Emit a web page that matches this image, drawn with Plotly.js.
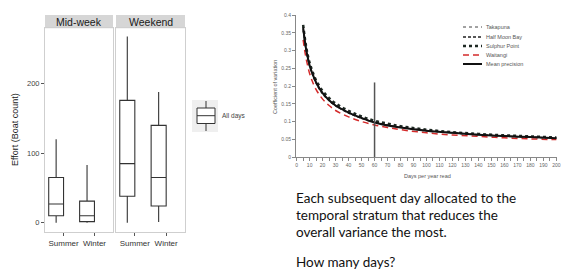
<!DOCTYPE html>
<html><head><meta charset="utf-8">
<script src="https://cdn.plot.ly/plotly-3.0.1.min.js"></script>
<style>html,body{margin:0;padding:0;background:#fff}#chart{width:563px;height:278px}</style>
</head><body><div id="chart"></div>
<script>
// ---- Left chart data (boat counts) ----
var seasons = ['Summer', 'Winter'];
var midweekLower = [0, 0];
var midweekQ1 = [10, 1.5];
var midweekMedian = [27, 10];
var midweekQ3 = [65, 31];
var midweekUpper = [120, 83];
var weekendLower = [0, 1];
var weekendQ1 = [38, 24];
var weekendMedian = [85, 65];
var weekendQ3 = [176, 140];
var weekendUpper = [268, 188];
var facetLabels = ['Mid-week', 'Weekend'];
var boxLegendLabel = 'All days';

// ---- Right chart data (coefficient of variation) ----
var days = [5, 6, 7, 8, 10, 12, 15, 20, 25, 30, 40, 50, 60, 70, 80, 100, 120, 140, 160, 180, 200];
var takapuna = [0.370, 0.340, 0.315, 0.294, 0.262, 0.240, 0.213, 0.183, 0.163, 0.148, 0.127, 0.112, 0.100, 0.092, 0.085, 0.075, 0.069, 0.064, 0.060, 0.057, 0.054];
var halfMoonBay = [0.360, 0.332, 0.307, 0.288, 0.256, 0.234, 0.208, 0.178, 0.159, 0.144, 0.124, 0.109, 0.098, 0.090, 0.084, 0.074, 0.068, 0.063, 0.059, 0.056, 0.053];
var sulphurPoint = [0.372, 0.343, 0.318, 0.297, 0.265, 0.243, 0.216, 0.186, 0.166, 0.151, 0.130, 0.114, 0.102, 0.094, 0.087, 0.077, 0.070, 0.065, 0.061, 0.058, 0.055];
var waitangi = [0.330, 0.305, 0.283, 0.265, 0.235, 0.214, 0.190, 0.163, 0.145, 0.131, 0.113, 0.100, 0.090, 0.083, 0.077, 0.068, 0.062, 0.058, 0.054, 0.051, 0.049];
var meanPrecision = [0.365, 0.335, 0.310, 0.290, 0.258, 0.236, 0.210, 0.180, 0.160, 0.145, 0.125, 0.110, 0.097, 0.089, 0.083, 0.074, 0.068, 0.063, 0.059, 0.056, 0.053];
var chosenDays = [60, 60];
var chosenLine = [0, 0.21];
var seriesNames = ['Takapuna', 'Half Moon Bay', 'Sulphur Point', 'Waitangi', 'Mean precision'];
var bodyText = ['Each subsequent day allocated to the', 'temporal stratum that reduces the', 'overall variance the most.', 'How many days?'];

var W = 563, H = 278;
function fx(p) { return p / W; }
function fy(p) { return 1 - p / H; }

var boxStyle = {type: 'box', fillcolor: '#ffffff', line: {color: '#333333', width: 1.1}, whiskerwidth: 0, hoverinfo: 'skip', showlegend: false, boxpoints: false};
function box(xa, ya, lo, q1, med, q3, up, ghost) {
  var t = Object.assign({}, boxStyle, {x: seasons, lowerfence: lo, q1: q1, median: med, q3: q3, upperfence: up, xaxis: xa, yaxis: ya,
    alignmentgroup: 'g' + xa, offsetgroup: ghost ? 'dodge' : 'main'});
  if (ghost) { t.fillcolor = 'rgba(0,0,0,0)'; t.line = {color: 'rgba(0,0,0,0)', width: 0}; }
  return t;
}

var styles = [
  {color: '#444444', width: 1, dash: 'dot'},
  {color: '#222222', width: 1.5, dash: '3px,2px'},
  {color: '#1f2a24', width: 2.5, dash: 'dot'},
  {color: '#d42b2b', width: 1.5, dash: '6px,4px'},
  {color: '#111111', width: 2, dash: 'solid'}
];
var seriesData = [takapuna, halfMoonBay, sulphurPoint, waitangi, meanPrecision];

var traces = [
  box('x', 'y', midweekLower, midweekQ1, midweekMedian, midweekQ3, midweekUpper, false),
  box('x', 'y', midweekLower, midweekQ1, midweekMedian, midweekQ3, midweekUpper, true),
  box('x2', 'y2', weekendLower, weekendQ1, weekendMedian, weekendQ3, weekendUpper, false),
  box('x2', 'y2', weekendLower, weekendQ1, weekendMedian, weekendQ3, weekendUpper, true)
];
var order = [3, 0, 1, 2, 4];
order.forEach(function (i) {
  traces.push({type: 'scatter', mode: 'lines', x: days, y: seriesData[i], name: seriesNames[i],
    line: {color: styles[i].color, width: styles[i].width, dash: styles[i].dash, shape: 'spline'},
    xaxis: 'x3', yaxis: 'y3', showlegend: false, hoverinfo: 'skip'});
});
traces.push({type: 'scatter', mode: 'lines', x: chosenDays, y: chosenLine, line: {color: '#555555', width: 1.5},
  xaxis: 'x3', yaxis: 'y3', showlegend: false, hoverinfo: 'skip'});

var panelAxis = {showline: true, mirror: true, linecolor: '#cfcfcf', linewidth: 1, showgrid: false, zeroline: false};
var shapes = [];
var annotations = [];

// facet strips
[[45, 113], [116, 185]].forEach(function (r, i) {
  shapes.push({type: 'rect', xref: 'paper', yref: 'paper', x0: fx(r[0]), x1: fx(r[1]), y0: fy(28.3), y1: fy(15), fillcolor: '#d6d6d6', line: {width: 0}, layer: 'below'});
  annotations.push({xref: 'paper', yref: 'paper', x: fx((r[0] + r[1]) / 2), y: fy(21.8), text: facetLabels[i], showarrow: false, xanchor: 'center', yanchor: 'middle', font: {family: 'Liberation Sans, Arial', size: 10.5, color: '#1a1a1a'}});
});

// left legend key
shapes.push({type: 'rect', xref: 'paper', yref: 'paper', x0: fx(192), x1: fx(218), y0: fy(132), y1: fy(100), fillcolor: '#efefef', line: {width: 0}});
shapes.push({type: 'rect', xref: 'paper', yref: 'paper', x0: fx(197), x1: fx(215), y0: fy(123.5), y1: fy(108), fillcolor: '#ffffff', line: {color: '#333', width: 1}});
shapes.push({type: 'line', xref: 'paper', yref: 'paper', x0: fx(197), x1: fx(215), y0: fy(115.7), y1: fy(115.7), line: {color: '#333', width: 1}});
shapes.push({type: 'line', xref: 'paper', yref: 'paper', x0: fx(206), x1: fx(206), y0: fy(108), y1: fy(101), line: {color: '#333', width: 1}});
shapes.push({type: 'line', xref: 'paper', yref: 'paper', x0: fx(206), x1: fx(206), y0: fy(123.5), y1: fy(131), line: {color: '#333', width: 1}});
annotations.push({xref: 'paper', yref: 'paper', x: fx(220), y: fy(116), text: boxLegendLabel, showarrow: false, xanchor: 'left', yanchor: 'middle', font: {family: 'Liberation Sans, Arial', size: 6.5, color: '#444'}});

// left y title
annotations.push({xref: 'paper', yref: 'paper', x: fx(15), y: fy(130), text: 'Effort (Boat count)', textangle: -90, showarrow: false, xanchor: 'center', yanchor: 'middle', font: {family: 'Liberation Sans, Arial', size: 9, color: '#1a1a1a'}});

// right legend
var legRows = [27, 37, 46, 55, 64];
seriesNames.forEach(function (n, i) {
  shapes.push({type: 'line', xref: 'paper', yref: 'paper', x0: fx(463), x1: fx(482), y0: fy(legRows[i]), y1: fy(legRows[i]), line: {color: styles[i].color, width: styles[i].width, dash: styles[i].dash}});
  annotations.push({xref: 'paper', yref: 'paper', x: fx(484), y: fy(legRows[i]), text: n, showarrow: false, xanchor: 'left', yanchor: 'middle', font: {family: 'Liberation Sans, Arial', size: 5.5, color: '#555'}});
});

// right axis titles
annotations.push({xref: 'paper', yref: 'paper', x: fx(275), y: fy(87), text: 'Coefficient of variation', textangle: -90, showarrow: false, xanchor: 'center', yanchor: 'middle', font: {family: 'Liberation Sans, Arial', size: 5.5, color: '#555'}});
annotations.push({xref: 'paper', yref: 'paper', x: fx(427), y: fy(176), text: 'Days per year read', showarrow: false, xanchor: 'center', yanchor: 'middle', font: {family: 'Liberation Sans, Arial', size: 5.5, color: '#555'}});

// body text
var textRows = [198, 215, 232, 262];
bodyText.forEach(function (t, i) {
  annotations.push({xref: 'paper', yref: 'paper', x: fx(294), y: fy(textRows[i]), text: t, showarrow: false, xanchor: 'left', yanchor: 'middle', font: {family: 'Lato', size: 13.5, color: '#111111'}});
});

var layout = {
  width: W, height: H, margin: {l: 0, r: 0, t: 0, b: 0}, paper_bgcolor: '#fff', plot_bgcolor: 'rgba(0,0,0,0)',
  showlegend: false, boxmode: 'group', boxgap: 0.04, boxgroupgap: 0,
  xaxis: Object.assign({}, panelAxis, {domain: [fx(45), fx(113)], anchor: 'y', type: 'category', categoryarray: seasons, range: [-0.6, 1.6], ticks: 'outside', ticklen: 3, tickcolor: '#555', tickfont: {family: 'Liberation Sans, Arial', size: 8, color: '#333'}}),
  xaxis2: Object.assign({}, panelAxis, {domain: [fx(116), fx(185)], anchor: 'y2', type: 'category', categoryarray: seasons, range: [-0.6, 1.6], ticks: 'outside', ticklen: 3, tickcolor: '#555', tickfont: {family: 'Liberation Sans, Arial', size: 8, color: '#333'}}),
  yaxis: Object.assign({}, panelAxis, {domain: [fy(232.3), fy(28.3)], anchor: 'x', range: [-13.8, 279.7], tickvals: [0, 100, 200], ticks: 'outside', ticklen: 3, tickcolor: '#555', tickfont: {family: 'Liberation Sans, Arial', size: 7.5, color: '#444'}}),
  yaxis2: Object.assign({}, panelAxis, {domain: [fy(232.3), fy(28.3)], anchor: 'x2', range: [-13.8, 279.7], showticklabels: false, ticks: ''}),
  xaxis3: {domain: [fx(296), fx(557)], anchor: 'y3', range: [-0.5, 200.5], dtick: 10, tick0: 0, showgrid: false, zeroline: false, showline: true, linecolor: '#888', linewidth: 1, ticks: 'outside', ticklen: 3, tickcolor: '#888', minor: {dtick: 5, ticks: 'outside', ticklen: 3, tickcolor: '#888', showgrid: false}, tickfont: {family: 'Liberation Sans, Arial', size: 5, color: '#666'}},
  yaxis3: {domain: [fy(157), fy(15)], anchor: 'x3', range: [0, 0.4], dtick: 0.05, showgrid: false, zeroline: false, showline: true, linecolor: '#888', linewidth: 1, ticks: 'outside', ticklen: 3, tickcolor: '#888', tickfont: {family: 'Liberation Sans, Arial', size: 5, color: '#666'}},
  shapes: shapes, annotations: annotations
};
Plotly.newPlot('chart', traces, layout, {staticPlot: true, displayModeBar: false});
</script></body></html>
